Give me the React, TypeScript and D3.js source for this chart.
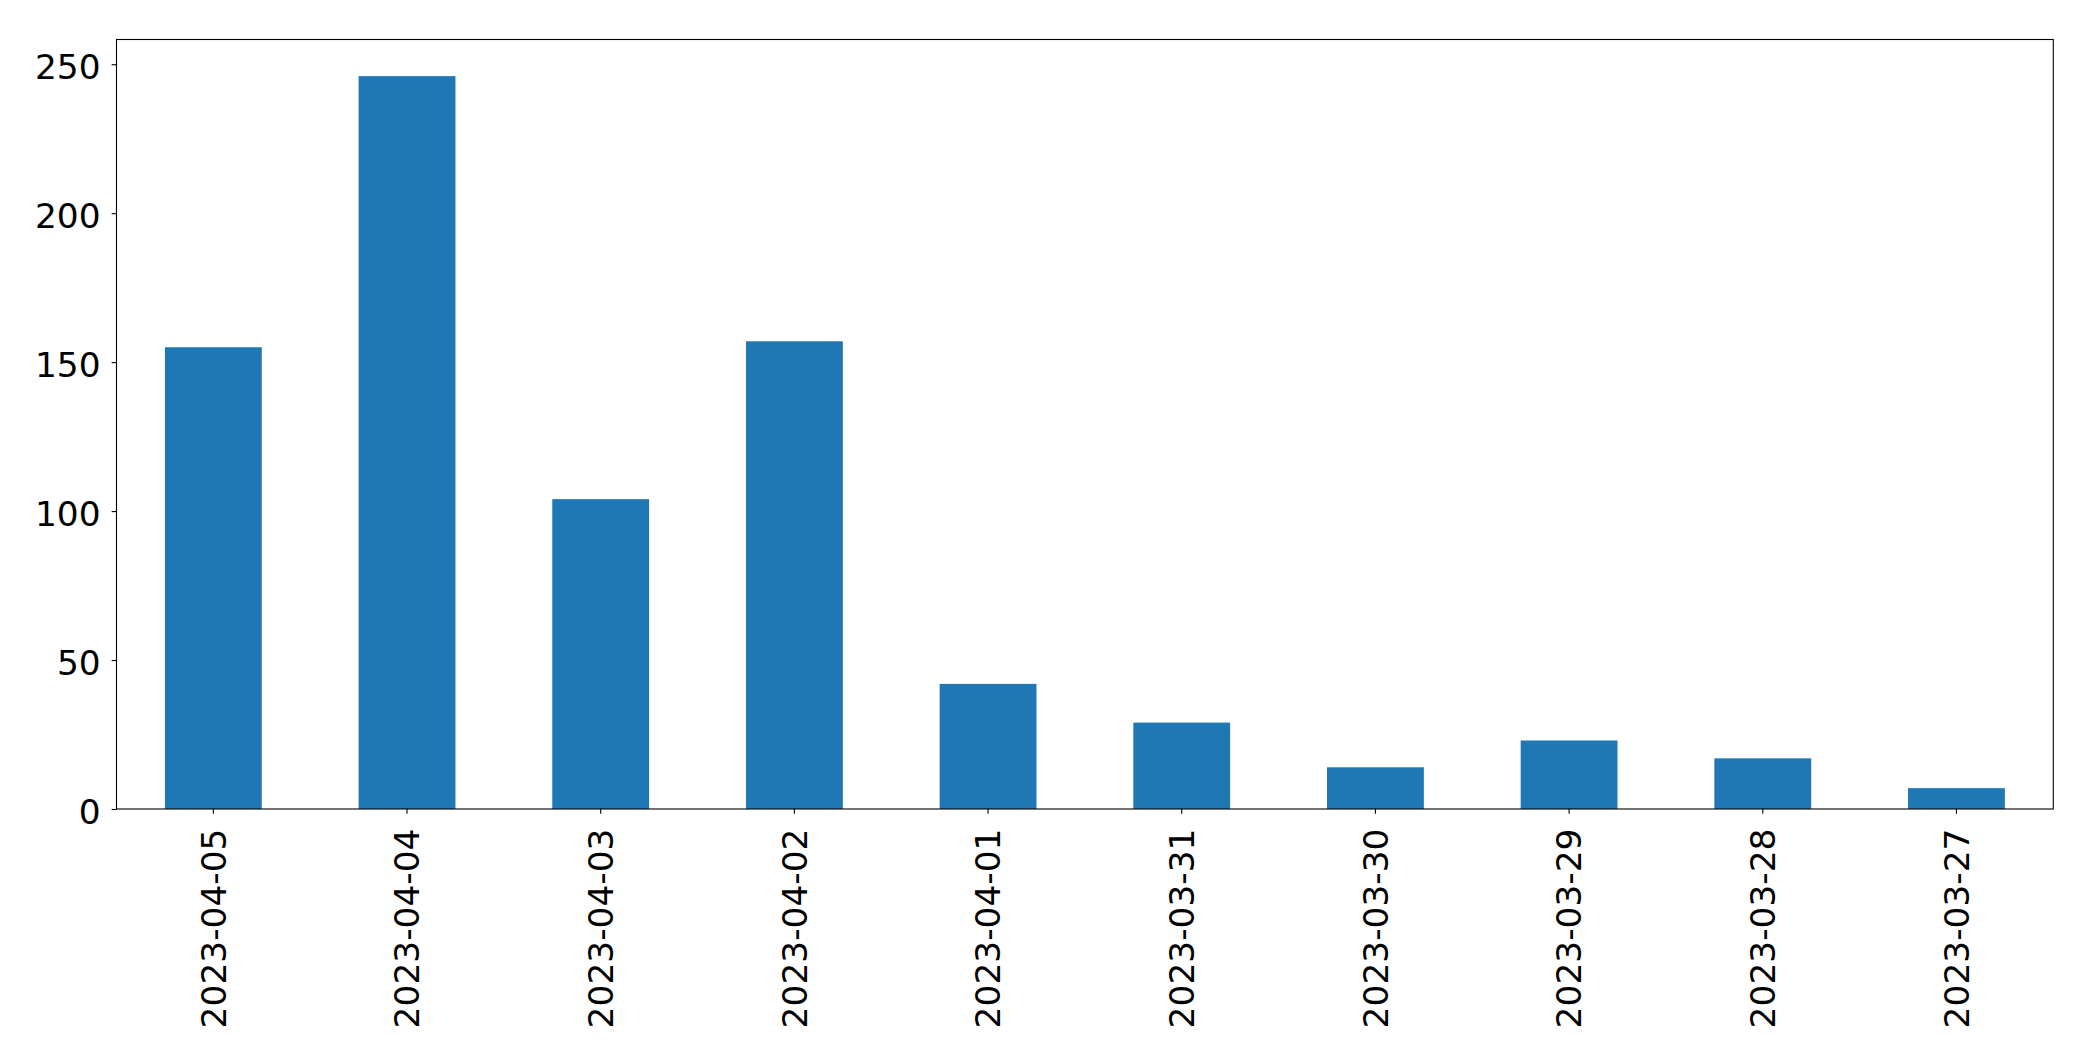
import { useEffect, useRef } from 'react'
import * as d3 from 'd3'

const dates = [
  '2023-04-05', '2023-04-04', '2023-04-03', '2023-04-02', '2023-04-01',
  '2023-03-31', '2023-03-30', '2023-03-29', '2023-03-28', '2023-03-27',
]
const counts = [155, 246, 104, 157, 42, 29, 14, 23, 17, 7]
const yTicks = [0, 50, 100, 150, 200, 250]

export default function App() {
  const ref = useRef<SVGSVGElement>(null)

  useEffect(() => {
    if (!ref.current) return
    document.body.style.margin = '0'

    const el     = ref.current
    const width  = 2093
    const height = 1061
    const left   = 116.5
    const right  = 2053.3
    const top    = 39.5
    const bottom = 809
    const font   = 'DejaVu Sans, sans-serif'
    const fs     = 34.4
    const tickLen = 4.86

    d3.select(el).selectAll('*').remove()
    const svg = d3.select(el).attr('width', width).attr('height', height)

    svg.append('rect').attr('width', width).attr('height', height).attr('fill', '#fff')

    const x = d3.scaleBand<string>()
      .domain(dates)
      .range([left, right])
      .paddingInner(0.5)
      .paddingOuter(0.25)

    const yMax = d3.max(counts)! * 1.05
    const y = d3.scaleLinear().domain([0, yMax]).range([bottom, top])

    // bars
    svg.append('g')
      .selectAll('rect')
      .data(dates)
      .join('rect')
      .attr('x', d => x(d)!)
      .attr('width', x.bandwidth())
      .attr('y', (_, i) => y(counts[i]))
      .attr('height', (_, i) => bottom - y(counts[i]))
      .attr('fill', '#1f77b4')

    // y axis
    svg.append('g')
      .attr('transform', `translate(${left},0)`)
      .call(d3.axisLeft(y).tickValues(yTicks).tickSize(tickLen).tickPadding(11).tickFormat(d3.format('d')))
      .call(g => {
        g.select('.domain').remove()
        g.selectAll('line').attr('stroke', '#000').attr('stroke-width', 1.1)
        g.selectAll('text')
          .attr('fill', '#000')
          .attr('font-family', font)
          .attr('font-size', fs)
          .attr('dy', '0.424em')
      })

    // x axis
    svg.append('g')
      .attr('transform', `translate(0,${bottom})`)
      .call(d3.axisBottom(x).tickSize(tickLen).tickFormat(() => ''))
      .call(g => {
        g.select('.domain').remove()
        g.selectAll('line').attr('stroke', '#000').attr('stroke-width', 1.1)
      })

    svg.append('g')
      .selectAll('text')
      .data(dates)
      .join('text')
      .attr('transform', d => `translate(${x(d)! + x.bandwidth() / 2},828.5) rotate(-90)`)
      .attr('text-anchor', 'end')
      .attr('dy', '0.36em')
      .attr('font-family', font)
      .attr('font-size', fs)
      .attr('fill', '#000')
      .text(d => d)

    // frame
    svg.append('rect')
      .attr('x', left)
      .attr('y', top)
      .attr('width', right - left)
      .attr('height', bottom - top)
      .attr('fill', 'none')
      .attr('stroke', '#000')
      .attr('stroke-width', 1.1)
  }, [])

  return <svg ref={ref} style={{ display: 'block' }} />
}
